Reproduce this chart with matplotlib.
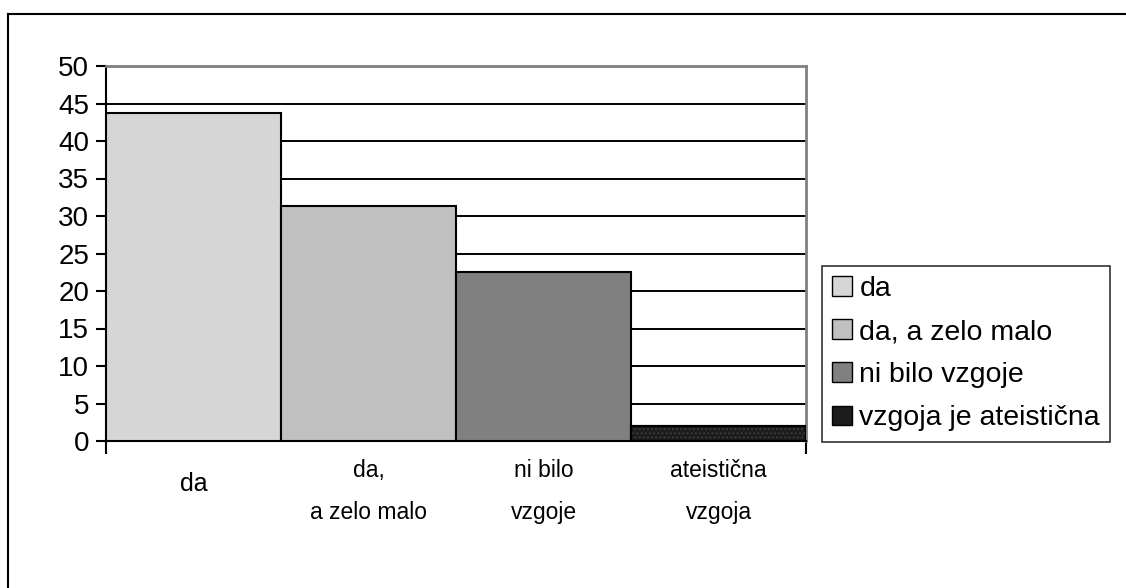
import numpy as np
import matplotlib.pyplot as plt
from matplotlib.patches import Patch
from matplotlib.lines import Line2D

# podatki
kategorije = ['da', 'da,\na zelo malo', 'ni bilo\nvzgoje', 'ateistična\nvzgoja']
legenda = ['da', 'da, a zelo malo', 'ni bilo vzgoje', 'vzgoja je ateistična']
vrednosti = [43.8, 31.3, 22.6, 2.0]
barve = ['#d6d6d6', '#c0c0c0', '#808080', '#1c1c1c']

plt.rcParams['font.family'] = ['Liberation Sans', 'DejaVu Sans']

fig = plt.figure(figsize=(11.26, 5.88), dpi=100)
ax = fig.add_axes([106/1126, 1-441/588, 700/1126, 375/588])

x = np.arange(len(vrednosti))
ax.set_axisbelow(True)
ax.yaxis.grid(True, color='black', linewidth=1.4)
ax.bar(x, vrednosti, width=1.0, color=barve, edgecolor='black', linewidth=1.5, zorder=3)
# pikčast vzorec na zadnjem stolpcu
ax.bar(x[3], vrednosti[3], width=1.0, color='none', edgecolor='#3a3a3a', hatch='....',
       linewidth=0, zorder=3.5)
ax.bar(x[3], vrednosti[3], width=1.0, color='none', edgecolor='black', linewidth=1.5, zorder=4)

ax.set_xlim(-0.5, 3.5)
ax.set_ylim(0, 50)
ax.set_yticks(np.arange(0, 51, 5))
ax.tick_params(axis='y', labelsize=20, length=7, width=1.5, direction='out', pad=5)

ax.set_xticks([-0.5, 3.5])
ax.set_xticklabels([])
ax.tick_params(axis='x', length=9, width=1.5, direction='out')

for i, lab in enumerate(kategorije):
    ax.text(x[i], -0.115 if i == 0 else -0.135, lab, transform=ax.get_xaxis_transform(),
            ha='center', va='center', fontsize=18 if i == 0 else 16.5,
            linespacing=2.05)

for s in ['left', 'bottom']:
    ax.spines[s].set_color('black')
    ax.spines[s].set_linewidth(1.5)
for s in ['top', 'right']:
    ax.spines[s].set_color('#808080')
    ax.spines[s].set_linewidth(2)

rocaji = [Patch(facecolor=c, edgecolor='black', linewidth=1) for c in barve]
leg = fig.legend(rocaji, legenda, loc='upper left', bbox_to_anchor=(822/1126, 1-266/588),
                 fontsize=20.5, frameon=True, fancybox=False, borderaxespad=0,
                 handlelength=0.7, handleheight=0.7, handletextpad=0.25,
                 labelspacing=0.6, borderpad=0.36)
leg.get_frame().set_edgecolor('black')
leg.get_frame().set_linewidth(1.2)

# okvir grafikona
fig.add_artist(Line2D([8/1126, 8/1126], [0, 1-14/588], color='black', linewidth=1.5,
                      transform=fig.transFigure))
fig.add_artist(Line2D([8/1126, 1], [1-14/588, 1-14/588], color='black', linewidth=1.5,
                      transform=fig.transFigure))

fig.savefig('out.png', dpi=100)
